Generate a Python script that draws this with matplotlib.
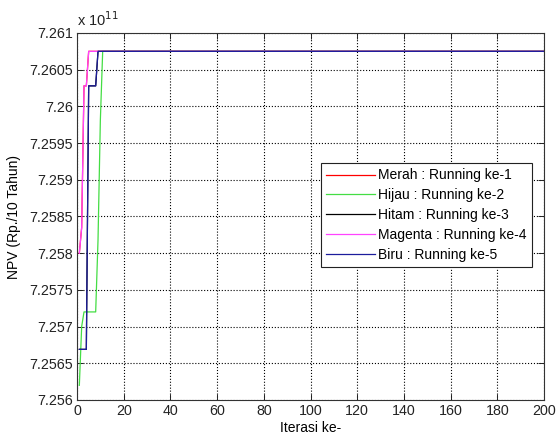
import numpy as np
import matplotlib
matplotlib.use('Agg')
import matplotlib.pyplot as plt
from matplotlib.ticker import FuncFormatter, MultipleLocator

plt.rcParams['font.family'] = ['Liberation Sans', 'DejaVu Sans']

n_iter = 200
final_npv = 7.26075e11

# early iterations of each run (after this, the value stays at final_npv)
merah_early = [7.2580e11, 7.25835e11, 7.26028e11, 7.26028e11, 7.26075e11]
hijau_early = [7.2562e11, 7.2570e11, 7.2572e11, 7.2572e11, 7.2572e11, 7.2572e11,
               7.2572e11, 7.2572e11, 7.25818e11, 7.25981e11, 7.26075e11]
hitam_early = [7.25669e11, 7.25669e11, 7.25669e11, 7.25669e11, 7.26028e11,
               7.26028e11, 7.26028e11, 7.26028e11, 7.26075e11]
magenta_early = [7.2580e11, 7.25835e11, 7.26028e11, 7.26028e11, 7.26075e11]
biru_early = [7.25669e11, 7.25669e11, 7.25669e11, 7.25669e11, 7.26028e11,
              7.26028e11, 7.26028e11, 7.26028e11, 7.26075e11]

labels = ['Merah : Running ke-1', 'Hijau : Running ke-2', 'Hitam : Running ke-3',
          'Magenta : Running ke-4', 'Biru : Running ke-5']
colors = ['#ff0000', '#44dd44', '#000000', '#ff44ff', '#1c1c9c']

iters = np.arange(1, n_iter + 1)


def pad(early):
    return np.array(early + [final_npv] * (n_iter - len(early)))


runs = [merah_early, hijau_early, hitam_early, magenta_early, biru_early]

fig = plt.figure(figsize=(5.56, 4.37), dpi=100)
ax = fig.add_axes([77 / 556, 1 - 400 / 437, 467 / 556, 367 / 437])

for early, lab, col in zip(runs, labels, colors):
    ax.plot(iters, pad(early), color=col, lw=0.9, label=lab)

ax.set_xlim(0, 200)
ax.set_ylim(7.256e11, 7.261e11)
ax.xaxis.set_major_locator(MultipleLocator(20))
ax.yaxis.set_major_locator(MultipleLocator(0.0005e11))
ax.yaxis.set_major_formatter(FuncFormatter(lambda v, p: f'{v / 1e11:.4f}'.rstrip('0').rstrip('.')))

ax.grid(True, color='k', ls=':', lw=0.8)
ax.tick_params(direction='in', top=True, right=True, length=4, width=0.7,
               labelsize=10.3, colors='#222222', pad=3)
for s in ax.spines.values():
    s.set_linewidth(0.8)
    s.set_color('#333333')

ax.text(0.0, 1.012, r'x 10$^{11}$', transform=ax.transAxes, fontsize=10.5,
        ha='left', va='bottom', color='#222222')

ax.set_xlabel('Iterasi ke-', fontsize=10, labelpad=2)
ax.set_ylabel('NPV (Rp./10 Tahun)', fontsize=10, labelpad=6)

leg = ax.legend(loc='upper left', bbox_to_anchor=(0.522, 0.646), fontsize=10,
                frameon=True, fancybox=False, edgecolor='#222222', framealpha=1,
                handlelength=3.5, handletextpad=0.25, labelspacing=0.42,
                borderpad=0.4, borderaxespad=0)
leg.get_frame().set_linewidth(0.8)

fig.savefig('out.png', dpi=100)
